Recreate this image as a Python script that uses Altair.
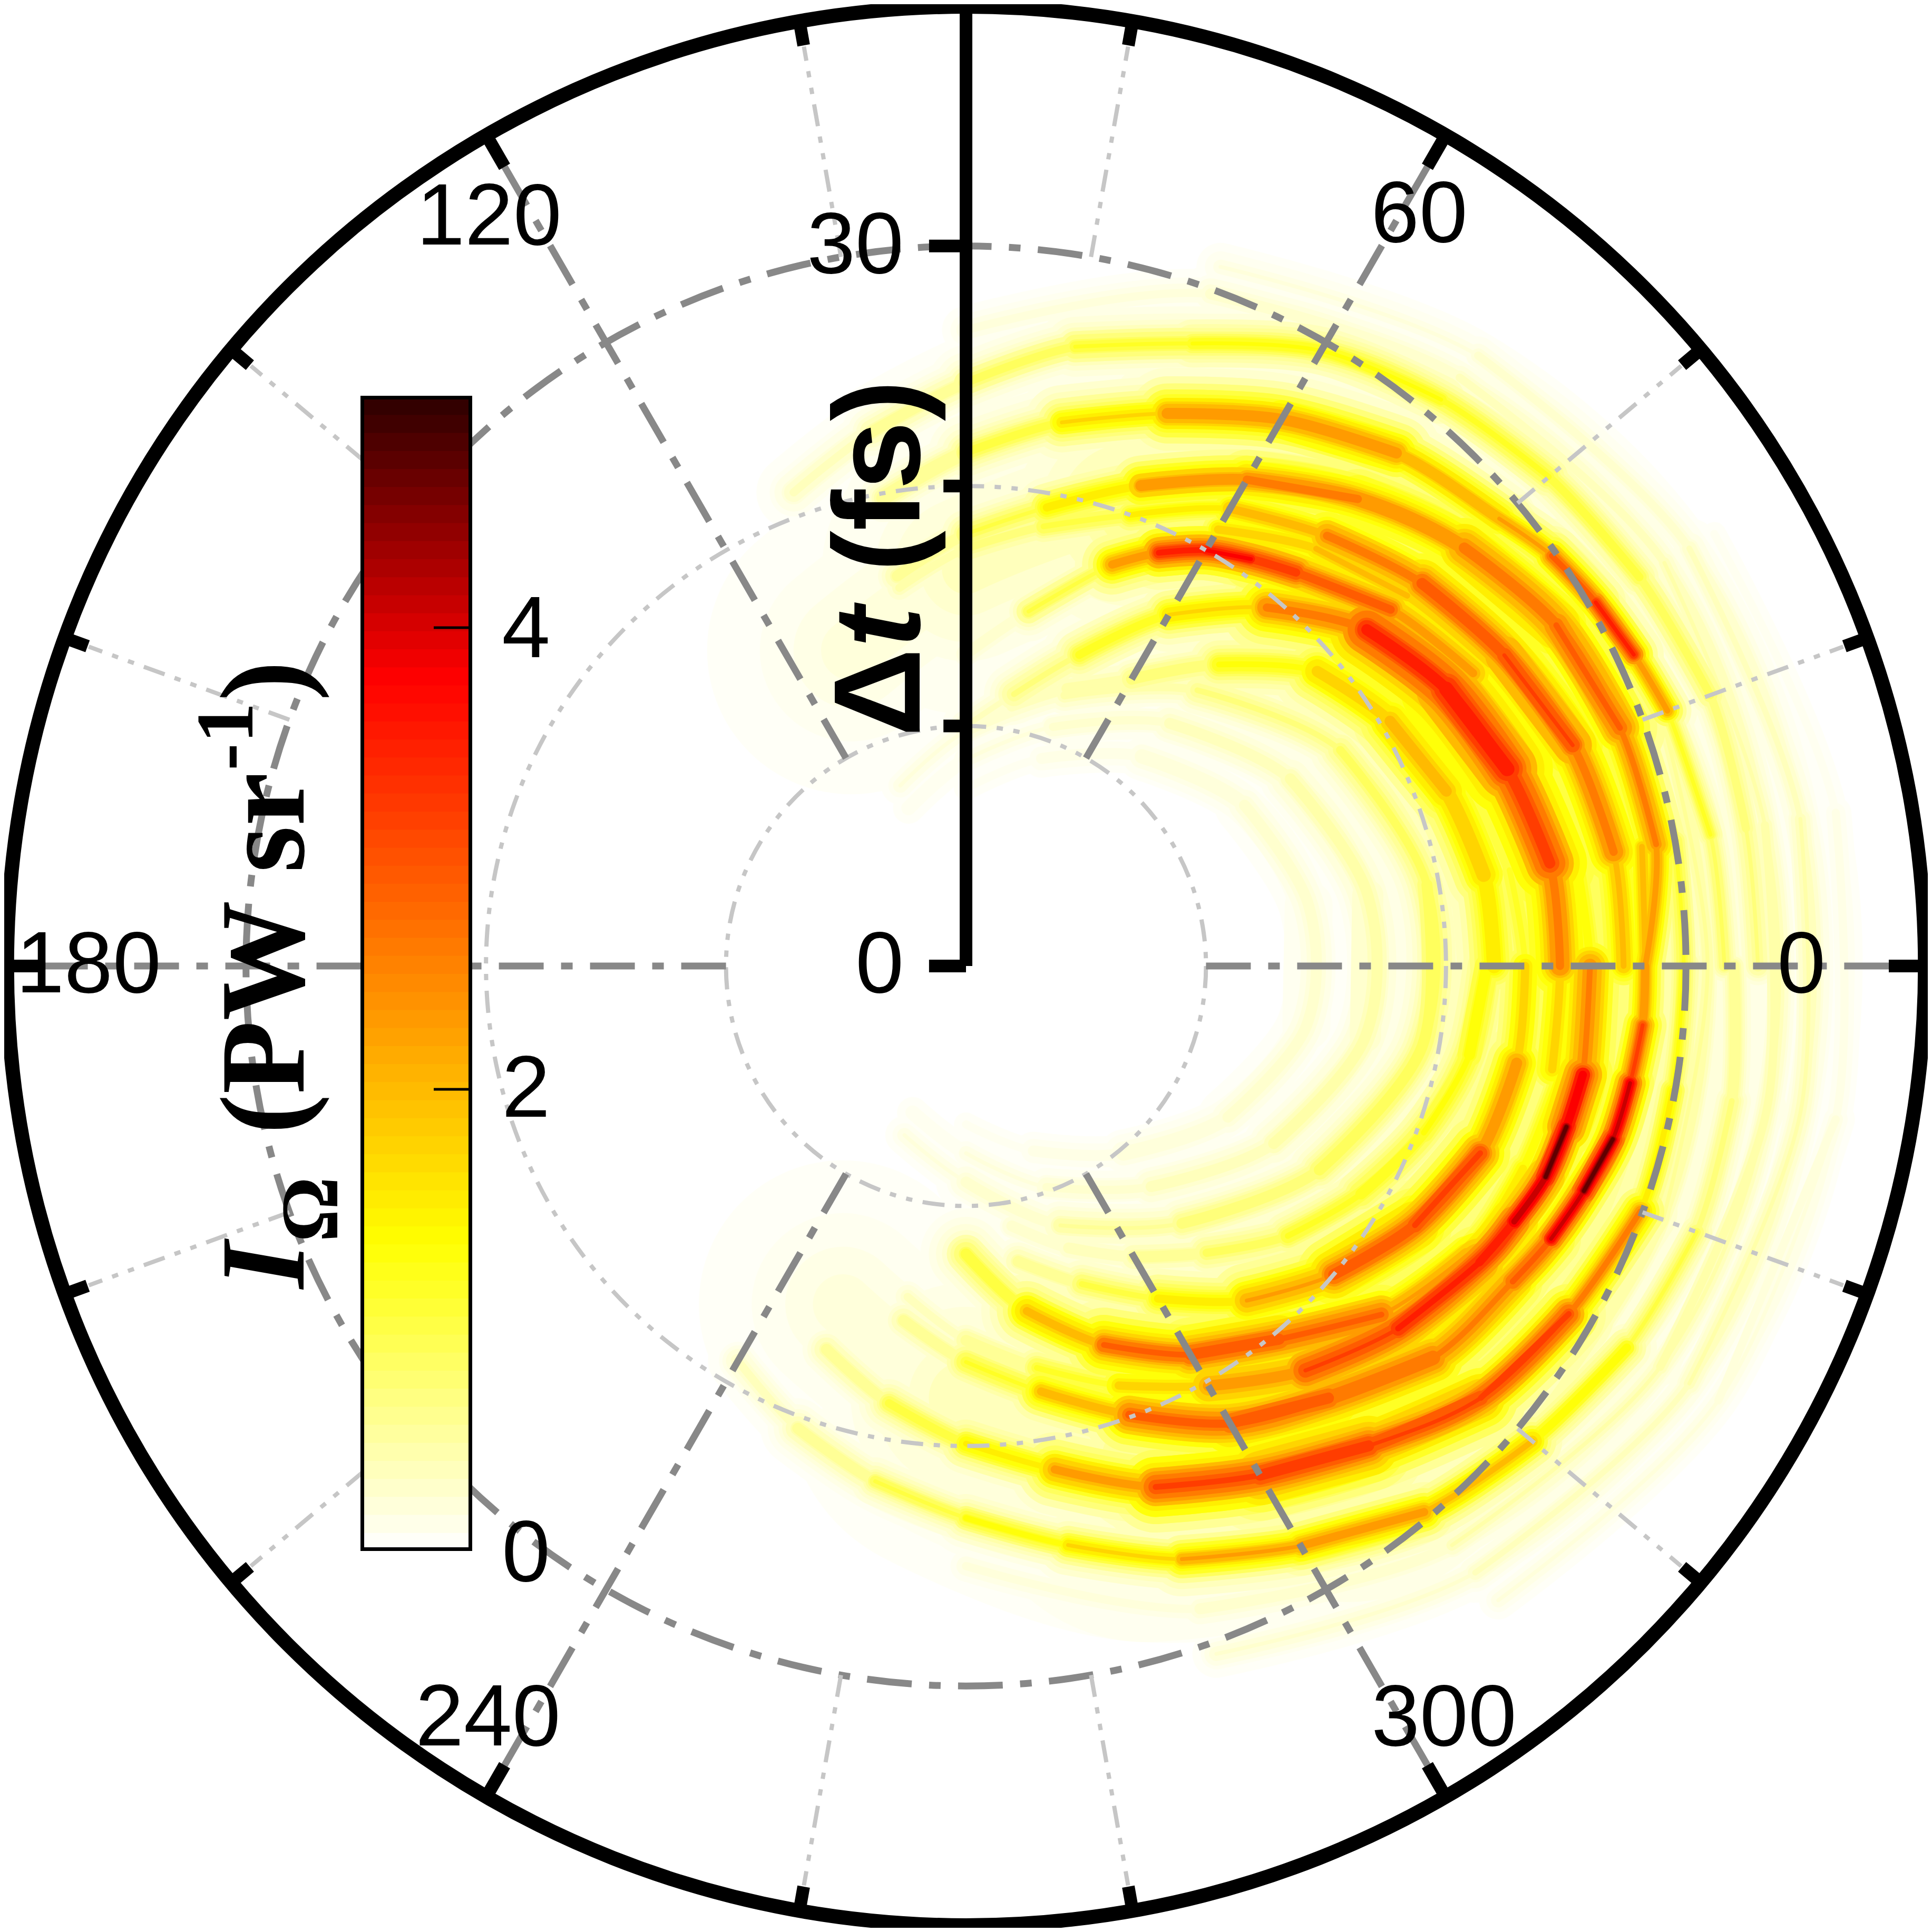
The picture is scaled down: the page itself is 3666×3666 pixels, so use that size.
import numpy as np
import pandas as pd
import altair as alt

# ---- polar heatmap rings: angle (deg), delay (fs), intensity (PW/sr), band width (fs)
TA_phi = [-10, 0, 10, 20, 30, 40, 50, 60, 70, 80, 90]
TA_r = [24.8, 24.75, 24.7, 24.0, 23.1, 21.8, 19.5, 16.9, 13.8, 11.5, 10.0]
TA_i = [1.4, 2.4, 3.0, 3.7, 3.8, 3.5, 2.0, 1.6, 1.0, 0.5, 0.25]
TA_s = [0.4, 0.55, 0.6, 0.75, 0.75, 0.65, 0.45, 0.4, 0.45, 0.5, 0.5]

TP_phi = [10, 20, 30, 40, 50, 55, 60, 65, 70, 80, 90]
TP_r = [25.0, 25.0, 24.4, 23.1, 21.4, 20.7, 20.0, 19.0, 17.8, 15.0, 13.0]
TP_i = [0.6, 1.0, 2.0, 3.0, 3.3, 3.7, 4.1, 3.5, 1.6, 0.5, 0.2]
TP_s = [0.4, 0.4, 0.4, 0.4, 0.35, 0.3, 0.25, 0.3, 0.35, 0.4, 0.4]

TC_phi = [0, 10, 20, 30, 40, 50, 60, 70, 80, 90, 100]
TC_r = [27.4, 27.4, 26.9, 25.9, 24.8, 23.4, 22.0, 20.0, 18.6, 17.4, 16.0]
TC_i = [1.8, 2.4, 3.2, 3.3, 3.0, 2.5, 1.9, 1.3, 0.9, 0.7, 0.3]
TC_s = [0.4, 0.45, 0.5, 0.5, 0.45, 0.4, 0.35, 0.4, 0.4, 0.45, 0.5]

TD_phi = [30, 40, 50, 60]
TD_r = [25.2, 24.0, 22.7, 21.0]
TD_i = [1.8, 2.2, 2.2, 1.7]
TD_s = [0.3, 0.3, 0.3, 0.3]

TB_phi = [0, 10, 20, 30, 40, 50, 60, 70, 80, 90, 100]
TB_r = [28.3, 29.2, 29.0, 28.4, 27.1, 25.4, 23.4, 21.3, 19.4, 18.0, 16.5]
TB_i = [2.4, 2.6, 3.0, 3.0, 2.6, 2.6, 3.1, 2.2, 1.2, 0.9, 0.4]
TB_s = [0.2, 0.25, 0.35, 0.6, 0.55, 0.4, 0.3, 0.35, 0.4, 0.45, 0.5]

T2_phi = [0, 10, 20, 25, 30, 35, 40, 50, 60, 70, 80, 90, 100]
T2_r = [31.6, 31.5, 31.1, 30.7, 30.3, 29.8, 29.0, 27.9, 26.3, 24.5, 23.0, 21.4, 19.8]
T2_i = [0.9, 0.9, 1.6, 3.8, 3.6, 2.6, 2.2, 2.4, 2.8, 2.3, 1.3, 0.9, 0.5]
T2_s = [0.3, 0.3, 0.15, 0.15, 0.18, 0.25, 0.3, 0.4, 0.4, 0.4, 0.4, 0.45, 0.5]

T1_phi = [0, 10, 20, 30, 40, 50, 60, 70, 80, 90, 100, 110]
T1_r = [33.0, 33.0, 33.0, 32.4, 31.7, 30.8, 29.6, 27.6, 26.2, 24.3, 22.6, 21.0]
T1_i = [0.7, 0.8, 0.9, 1.1, 1.2, 1.3, 1.4, 1.3, 1.1, 0.8, 0.5, 0.3]
T1_s = [0.35, 0.35, 0.35, 0.4, 0.4, 0.4, 0.4, 0.4, 0.4, 0.45, 0.45, 0.5]

TF_phi = [0, 10, 20, 30, 40, 50, 60, 70, 80]
TF_r = [22.0, 21.9, 21.3, 20.4, 19.1, 16.4, 13.8, 12.3, 11.0]
TF_i = [1.6, 1.9, 2.1, 2.2, 1.7, 1.0, 0.6, 0.5, 0.35]
TF_s = [0.5, 0.55, 0.6, 0.6, 0.55, 0.55, 0.5, 0.5, 0.5]

B1_phi = [10, 0, -10, -20, -30, -40, -50, -60, -70, -80]
B1_r = [23.0, 23.3, 23.3, 22.8, 21.6, 20.0, 18.2, 16.0, 14.1, 12.5]
B1_i = [0.9, 1.6, 2.2, 3.0, 3.6, 2.7, 2.0, 1.3, 0.8, 0.5]
B1_s = [0.4, 0.45, 0.45, 0.4, 0.45, 0.5, 0.5, 0.45, 0.45, 0.45]

B2_phi = [10, 0, -10, -15, -20, -25, -30, -40, -50, -60, -70, -80, -90, -100]
B2_r = [25.8, 26.0, 26.1, 25.9, 25.7, 25.2, 24.7, 23.5, 22.0, 20.2, 18.6, 17.0, 15.6, 14.0]
B2_i = [1.0, 1.9, 3.5, 4.8, 5.0, 4.0, 3.6, 3.6, 2.9, 2.2, 1.5, 0.9, 0.5, 0.3]
B2_s = [0.45, 0.5, 0.45, 0.22, 0.2, 0.3, 0.45, 0.5, 0.55, 0.5, 0.5, 0.45, 0.45, 0.45]

BU_phi = [-10, -20, -30, -40, -50, -60, -70, -80, -90]
BU_r = [25.2, 24.7, 24.1, 22.6, 20.3, 18.7, 16.8, 14.6, 12.0]
BU_i = [1.4, 1.5, 1.8, 2.9, 3.1, 3.2, 2.8, 1.6, 0.7]
BU_s = [0.4, 0.4, 0.45, 0.45, 0.5, 0.45, 0.4, 0.45, 0.45]

B3_phi = [10, 0, -5, -10, -15, -20, -25, -30, -40, -50, -60, -70, -80, -90, -100]
B3_r = [28.6, 28.3, 28.3, 28.1, 27.9, 27.4, 26.9, 26.3, 25.4, 23.5, 22.0, 19.9, 18.0, 16.5, 15.0]
B3_i = [2.2, 2.3, 3.0, 3.8, 5.0, 5.0, 3.6, 2.6, 2.8, 3.0, 3.3, 2.8, 1.5, 0.9, 0.4]
B3_s = [0.2, 0.2, 0.2, 0.2, 0.17, 0.17, 0.25, 0.4, 0.5, 0.55, 0.5, 0.4, 0.4, 0.45, 0.45]

B4_phi = [10, 0, -10, -20, -30, -40, -50, -60, -70, -80, -90, -100, -110]
B4_r = [30.0, 29.9, 29.9, 29.9, 29.0, 28.0, 26.1, 24.5, 23.1, 21.3, 19.9, 18.5, 17.0]
B4_i = [1.1, 1.3, 1.4, 2.0, 3.5, 3.2, 3.3, 3.6, 3.0, 1.9, 1.3, 0.9, 0.4]
B4_s = [0.3, 0.3, 0.3, 0.25, 0.3, 0.4, 0.55, 0.55, 0.45, 0.4, 0.4, 0.45, 0.45]

B5_phi = [0, -10, -20, -30, -40, -50, -60, -70, -80, -90, -100, -110, -120]
B5_r = [32.0, 32.4, 32.4, 31.8, 30.8, 29.7, 27.9, 26.3, 24.5, 23.0, 21.8, 20.5, 19.0]
B5_i = [0.7, 0.7, 0.9, 1.2, 1.9, 2.5, 2.7, 2.1, 1.6, 1.2, 0.9, 0.5, 0.3]
B5_s = [0.35, 0.35, 0.3, 0.3, 0.3, 0.3, 0.3, 0.3, 0.3, 0.3, 0.35, 0.4, 0.45]

BI_phi = [0, -10, -20, -30, -40, -50, -60, -70, -80]
BI_r = [21.7, 21.3, 20.3, 19.0, 17.5, 15.6, 14.0, 12.5, 11.0]
BI_i = [1.5, 1.4, 1.3, 1.3, 1.1, 0.8, 0.5, 0.4, 0.25]
BI_s = [0.5, 0.5, 0.5, 0.5, 0.5, 0.5, 0.45, 0.45, 0.45]

I1_phi = [-110, -90, -70, -50, -30, -10, 10, 30, 50, 70, 90, 110]
I1_r = [7.5, 9.0, 11.5, 14.0, 17.0, 19.3, 19.5, 18.0, 15.0, 12.0, 9.8, 8.0]
I1_i = [0.15, 0.25, 0.45, 0.7, 1.0, 1.0, 1.0, 0.9, 0.6, 0.4, 0.25, 0.15]
I1_s = [0.4, 0.4, 0.45, 0.5, 0.5, 0.5, 0.5, 0.5, 0.5, 0.45, 0.4, 0.4]

I2_phi = [-110, -90, -70, -50, -30, -10, 10, 30, 50, 70, 90, 110]
I2_r = [6.5, 7.8, 9.8, 12.0, 14.8, 16.9, 17.0, 15.6, 13.2, 10.6, 8.6, 7.0]
I2_i = [0.1, 0.15, 0.25, 0.35, 0.5, 0.55, 0.55, 0.5, 0.35, 0.25, 0.15, 0.1]
I2_s = [0.4, 0.4, 0.45, 0.5, 0.5, 0.5, 0.5, 0.5, 0.5, 0.45, 0.4, 0.4]

I3_phi = [-90, -70, -50, -30, -10, 10, 30, 50, 70, 90]
I3_r = [6.6, 8.2, 10.2, 12.6, 14.4, 14.5, 13.4, 11.4, 9.2, 7.4]
I3_i = [0.08, 0.12, 0.2, 0.3, 0.33, 0.33, 0.3, 0.2, 0.12, 0.08]
I3_s = [0.4, 0.45, 0.5, 0.5, 0.5, 0.5, 0.5, 0.5, 0.45, 0.4]

P1_phi = [-40, -20, 0, 20, 40]
P1_r = [30.4, 30.9, 30.9, 30.8, 30.2]
P1_i = [0.5, 0.6, 0.6, 0.6, 0.4]
P1_s = [0.3, 0.3, 0.3, 0.3, 0.3]

P3_phi = [-90, -70, -50, -30, -10, 10, 30, 50, 70, 90]
P3_r = [25.0, 28.5, 31.5, 33.4, 33.9, 33.8, 33.6, 32.0, 29.8, 26.5]
P3_i = [0.15, 0.3, 0.4, 0.55, 0.55, 0.5, 0.45, 0.4, 0.3, 0.15]
P3_s = [0.45, 0.45, 0.4, 0.35, 0.35, 0.35, 0.35, 0.4, 0.45, 0.45]

P4_phi = [-70, -50, -30, -10, 10, 30, 50, 70]
P4_r = [30.5, 33.0, 34.8, 35.3, 35.3, 34.8, 33.2, 31.0]
P4_i = [0.2, 0.35, 0.45, 0.5, 0.45, 0.35, 0.25, 0.15]
P4_s = [0.45, 0.4, 0.35, 0.35, 0.35, 0.4, 0.45, 0.5]

P5_phi = [-50, -30, -10, 10, 30]
P5_r = [34.5, 36.2, 36.8, 36.8, 36.0]
P5_i = [0.15, 0.25, 0.2, 0.12, 0.08]
P5_s = [0.45, 0.4, 0.4, 0.4, 0.45]

# broad pale yellow crescent under the strong rings
CRES_phi = [-110, -90, -70, -50, -30, -10, 10, 30, 50, 70, 90, 110]
CRES_r = [15.0, 18.0, 22.0, 24.8, 25.8, 26.0, 26.0, 25.5, 23.5, 20.0, 16.5, 14.0]
CRES_i = [0.15, 0.3, 0.6, 0.85, 0.95, 0.95, 0.95, 0.95, 0.8, 0.5, 0.3, 0.15]
CRES_s = [3.2, 3.2, 3.2, 3.2, 3.2, 3.2, 3.2, 3.2, 3.2, 3.2, 3.2, 3.2]

WASH_phi = [-120, -90, -60, -30, 0, 30, 60, 90, 120]
WASH_r = [16.0, 20.0, 25.0, 28.0, 28.0, 28.0, 25.0, 20.0, 16.0]
WASH_i = [0.05, 0.11, 0.17, 0.25, 0.25, 0.25, 0.17, 0.11, 0.05]
WASH_s = [3.0, 3.0, 3.0, 3.0, 3.0, 3.0, 3.0, 3.0, 3.0]

ARCS = [
    (TA_phi, TA_r, TA_i, TA_s), (TP_phi, TP_r, TP_i, TP_s), (TC_phi, TC_r, TC_i, TC_s),
    (TD_phi, TD_r, TD_i, TD_s), (TB_phi, TB_r, TB_i, TB_s), (T2_phi, T2_r, T2_i, T2_s),
    (T1_phi, T1_r, T1_i, T1_s), (TF_phi, TF_r, TF_i, TF_s), (B1_phi, B1_r, B1_i, B1_s),
    (B2_phi, B2_r, B2_i, B2_s), (BU_phi, BU_r, BU_i, BU_s), (B3_phi, B3_r, B3_i, B3_s),
    (B4_phi, B4_r, B4_i, B4_s), (B5_phi, B5_r, B5_i, B5_s), (BI_phi, BI_r, BI_i, BI_s),
    (I1_phi, I1_r, I1_i, I1_s), (I2_phi, I2_r, I2_i, I2_s), (I3_phi, I3_r, I3_i, I3_s),
    (P1_phi, P1_r, P1_i, P1_s), (P3_phi, P3_r, P3_i, P3_s), (P4_phi, P4_r, P4_i, P4_s),
    (P5_phi, P5_r, P5_i, P5_s), (CRES_phi, CRES_r, CRES_i, CRES_s), (WASH_phi, WASH_r, WASH_i, WASH_s),
]

# contour levels at which each ring is drawn, and the half widths (fs) used for them
LEVELS = [0.04, 0.08, 0.13, 0.19, 0.26, 0.35, 0.45, 0.55, 0.7, 0.85, 1.0, 1.15, 1.3, 1.5, 1.75,
          2.0, 2.3, 2.6, 2.9, 3.2, 3.5, 3.8, 4.1, 4.4, 4.7, 4.95]
HALF_WIDTHS = [0.08, 0.12, 0.17, 0.23, 0.3, 0.4, 0.5, 0.65, 0.8, 1.0, 1.25,
               1.55, 1.9, 2.4, 3.0, 3.8, 4.8, 6.0, 7.5]

# colour map stops
CM_VALUES = [0.0, 1.34, 3.78, 5.0]
CM_RED = [255, 255, 255, 44]
CM_GREEN = [255, 255, 0, 0]
CM_BLUE = [255, 0, 0, 0]

# grid / axis values
GRID_R = [10, 20]
GRID_R_MAJOR = [30]
ANG_MAJOR = [0, 60, 120, 180, 240, 300]
ANG_MINOR = [20, 40, 80, 100, 140, 160, 200, 220, 260, 280, 320, 340]
R_TICKS_MAJOR = [0, 30]
R_TICKS_MINOR = [10, 20]
CBAR_TICKS = [2, 4]

# layout helpers: plot px -> data (fs) coordinates
PX = 45.54
C = 1833.0
HALF = 1817 / PX
fx = lambda p: (p - C) / PX
fy = lambda p: (C - p) / PX
pol = lambda r, a: (r * np.cos(np.radians(a)), r * np.sin(np.radians(a)))


def hexcolor(v):
    r = np.interp(v, CM_VALUES, CM_RED)
    g = np.interp(v, CM_VALUES, CM_GREEN)
    b = np.interp(v, CM_VALUES, CM_BLUE)
    return "#%02x%02x%02x" % (int(round(r)), int(round(g)), int(round(b)))


def band_half(I, s, L):
    """half width of a band of peak I and width s at contour level L"""
    if I <= L:
        return 0.0
    q = min(I / 3.0, 1.0)
    gamma = s * (0.9 + 0.6 * q)
    ratio = I / L
    return min(gamma * np.sqrt(ratio - 1), 4 * gamma) + (0.15 + 0.4 * q) * (1 - 1 / ratio)


sx = alt.Scale(domain=[-HALF, HALF], nice=False, zero=False)
sy = alt.Scale(domain=[-HALF, HALF], nice=False, zero=False)
X = alt.X("x:Q", scale=sx, axis=None)
Y = alt.Y("y:Q", scale=sy, axis=None)
X2 = alt.X2("x2:Q")
Y2 = alt.Y2("y2:Q")
DARK = "#888888"
LIGHT = "#c6c6c6"
SANS = "Liberation Sans"
SERIF = "Liberation Serif"

# each ring becomes nested smooth lines: per contour level, per width class
rows = []
run_id = 0
for L in LEVELS:
    col = hexcolor(L)
    for phi, r, i, s in ARCS:
        n = len(phi) - 1
        seg = [band_half((i[j] + i[j + 1]) / 2, (s[j] + s[j + 1]) / 2, L) for j in range(n)]
        for ci, c in enumerate(HALF_WIDTHS):
            nxt = HALF_WIDTHS[ci + 1] if ci + 1 < len(HALF_WIDTHS) else 1e9
            k = 0
            while k < n:
                if seg[k] < c:
                    k += 1
                    continue
                e = k
                while e < n and seg[e] >= c:
                    e += 1
                if min(seg[k:e]) < nxt:  # otherwise fully covered by the next wider class
                    for j in range(k, e + 1):
                        x0, y0 = pol(r[j], phi[j])
                        rows.append(dict(x=x0, y=y0, run=run_id, o=j - k, c=col, w=2 * c))
                    run_id += 1
                k = e
rings = pd.DataFrame(rows)
ring_layer = alt.Chart(rings).mark_line(interpolate="cardinal", strokeCap="round", strokeJoin="round").encode(
    x=X, y=Y,
    detail="run:N",
    order=alt.Order("o:Q"),
    color=alt.Color("c:N", scale=None),
    strokeWidth=alt.StrokeWidth("w:Q", scale=alt.Scale(domain=[0, 10], range=[0, 10 * PX]), legend=None),
)


def circles(radii, color, width, dash):
    df = pd.DataFrame({"x": [0.0] * len(radii), "y": [0.0] * len(radii), "d": radii})
    return alt.Chart(df).mark_point(shape="circle", filled=False, color=color, opacity=1,
                                    strokeWidth=width, **({"strokeDash": dash} if dash else {})).encode(
        x=X, y=Y,
        size=alt.Size("d:Q", scale=alt.Scale(type="pow", exponent=2, domain=[0, 40], range=[0, (80 * PX) ** 2]),
                      legend=None),
    )


def spokes(angles, r0, r1, color, width, dash=None):
    recs = []
    for a in angles:
        x0, y0 = pol(r0, a)
        x1, y1 = pol(r1, a)
        recs.append(dict(x=x0, y=y0, x2=x1, y2=y1))
    kw = {"strokeDash": dash} if dash else {}
    return alt.Chart(pd.DataFrame(recs)).mark_rule(color=color, strokeWidth=width, **kw).encode(x=X, y=Y, x2=X2, y2=Y2)


def segs(recs, color, width):
    return alt.Chart(pd.DataFrame(recs)).mark_rule(color=color, strokeWidth=width).encode(x=X, y=Y, x2=X2, y2=Y2)


def text(items, size, font=SANS, **kw):
    df = pd.DataFrame([dict(x=fx(a), y=fy(b), t=t) for t, a, b in items])
    return alt.Chart(df).mark_text(fontSize=size, font=font, color="black", **kw).encode(x=X, y=Y, text="t:N")


DASH_MAJOR = [85, 33, 22, 33]
DASH_MINOR = [42, 20, 12, 20, 12, 20]
grid = [
    circles(GRID_R, LIGHT, 8, DASH_MINOR),
    circles(GRID_R_MAJOR, DARK, 13, DASH_MAJOR),
    spokes(ANG_MINOR, 30, 38.9, LIGHT, 8, DASH_MINOR),
    spokes(ANG_MAJOR, 10, 38.5, DARK, 13, DASH_MAJOR),
]

frame = [
    circles([39.96], "black", 27, None),
    spokes(ANG_MINOR, 38.95, 39.8, "black", 24),
    spokes(ANG_MAJOR, 38.45, 39.8, "black", 24),
    segs([dict(x=0, y=0, x2=0, y2=39.9)], "black", 24),
    segs([dict(x=-1.54, y=t, x2=0, y2=t) for t in R_TICKS_MAJOR], "black", 24),
    segs([dict(x=-0.94, y=t, x2=0, y2=t) for t in R_TICKS_MINOR], "black", 24),
]

# colour bar: 64 bands over 0-5, same colour map
CB_LEVELS = 64
CB_MAX = 5.0
cb_y = lambda v: fy(2943 - 438 * v)
cb_edges = [CB_MAX * k / CB_LEVELS for k in range(CB_LEVELS + 1)]
cb_mid = [(a + b) / 2 for a, b in zip(cb_edges[:-1], cb_edges[1:])]
cb = pd.DataFrame({
    "x": [fx(687)] * CB_LEVELS, "x2": [fx(893)] * CB_LEVELS,
    "y": [cb_y(v) for v in cb_edges[:-1]], "y2": [cb_y(v) + 0.02 for v in cb_edges[1:]],
    "c": [hexcolor(v) for v in cb_mid],
})
cb_bands = alt.Chart(cb).mark_rect().encode(
    x=X, y=Y, x2=X2, y2=Y2, color=alt.Color("c:N", scale=None))
cb_box = alt.Chart(pd.DataFrame([dict(x=fx(687.5), x2=fx(892.5), y=fy(2939.5), y2=fy(754.5))])).mark_rect(
    fill=None, stroke="black", strokeWidth=7, fillOpacity=0).encode(x=X, y=Y, x2=X2, y2=Y2)
cb_ticks = segs([dict(x=fx(823), y=cb_y(t), x2=fx(889), y2=cb_y(t)) for t in CBAR_TICKS], "black", 5)

labels = text(
    [("180", 168, 1833), ("0", 3418, 1833), ("0", 1669, 1833), ("30", 1623, 468),
     ("60", 2693, 409), ("120", 928, 414), ("240", 926, 3262), ("300", 2740, 3262),
     ("4", 998, 1197), ("2", 998, 2069), ("0", 998, 2950)],
    165, align="center", baseline="middle")

BOLD = dict(fontWeight="bold", angle=270, align="left", baseline="alphabetic")
titles = [
    text([("Δ", 1745, 1398)], 234, **BOLD),
    text([("t", 1745, 1229)], 234, fontStyle="italic", **BOLD),
    text([("(fs)", 1745, 1085)], 234, **BOLD),
    text([("I", 576, 2445)], 228, font=SERIF, fontStyle="italic", **BOLD),
    text([("Ω", 640, 2357)], 155, font=SERIF, **BOLD),
    text([("(PW sr", 576, 2152)], 228, font=SERIF, **BOLD),
    text([("-1", 479, 1462)], 155, font=SERIF, **BOLD),
    text([(")", 576, 1330)], 228, font=SERIF, **BOLD),
]

chart = alt.layer(ring_layer, *grid, cb_bands, cb_box, cb_ticks, *frame, labels, *titles).properties(
    width=3634, height=3634, padding=8, background="white",
    autosize=alt.AutoSizeParams(type="none"),
).configure_view(stroke=None)

chart.save("out.html", embed_options={"renderer": "svg", "actions": False})
